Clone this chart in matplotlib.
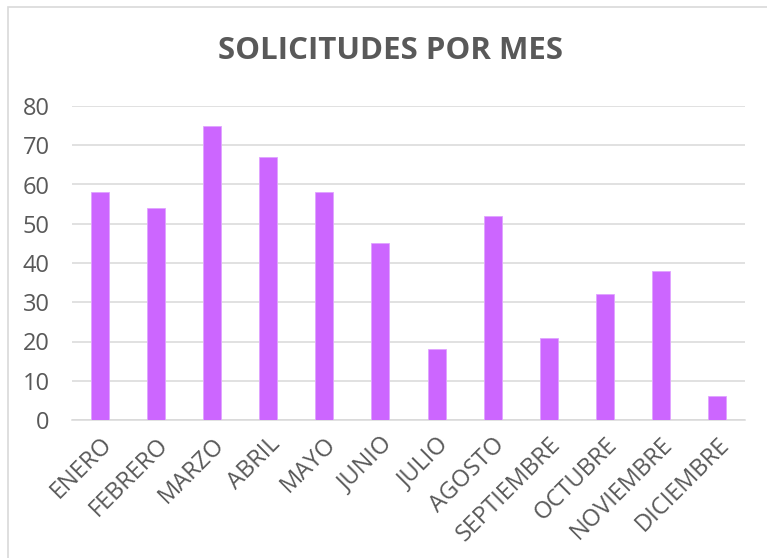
import matplotlib.pyplot as plt
from matplotlib.patches import Rectangle

meses = ["ENERO", "FEBRERO", "MARZO", "ABRIL", "MAYO", "JUNIO", "JULIO",
         "AGOSTO", "SEPTIEMBRE", "OCTUBRE", "NOVIEMBRE", "DICIEMBRE"]
solicitudes = [58, 54, 75, 67, 58, 45, 18, 52, 21, 32, 38, 6]
y_ticks = [0, 10, 20, 30, 40, 50, 60, 70, 80]

plt.rcParams['font.family'] = ['Open Sans', 'DejaVu Sans']
gris = '#595959'

fig = plt.figure(figsize=(7.67, 5.58), dpi=100)
ax = fig.add_axes([72 / 767, 1 - 420 / 558, (745 - 72) / 767, (420 - 106) / 558])

# marco exterior del grafico
fig.patches.append(Rectangle((8 / 767, -0.1), 1.2, 1.1 - 7 / 558,
                             transform=fig.transFigure, fill=False,
                             edgecolor='#D9D9D9', linewidth=1.2))

x = range(len(meses))
ax.bar(x, solicitudes, width=0.32, color='#CC66FF', edgecolor='#E0A3FF',
       linewidth=0.6, zorder=3)

ax.set_xlim(-0.5, len(meses) - 0.5)
ax.set_ylim(0, 80)
ax.set_yticks(y_ticks)
ax.set_xticks(list(x))
ax.set_xticklabels(meses, rotation=45, ha='right', va='top',
                   rotation_mode='anchor')
ax.yaxis.grid(True, color='#D9D9D9', linewidth=1.1, zorder=0)
ax.tick_params(axis='both', length=0, labelsize=17, colors=gris)
ax.tick_params(axis='y', pad=16)
ax.tick_params(axis='x', pad=9)
for s in ['top', 'right', 'left']:
    ax.spines[s].set_visible(False)
ax.spines['bottom'].set_color('#D9D9D9')
ax.spines['bottom'].set_linewidth(1.1)
for lbl in ax.get_xticklabels():
    lbl.set_x(lbl.get_position()[0])

fig.text(391 / 767, 1 - 51 / 558, "SOLICITUDES POR MES", ha='center',
         va='center', fontsize=22.5, fontweight='bold', color=gris)

fig.savefig('out.png', dpi=100)
